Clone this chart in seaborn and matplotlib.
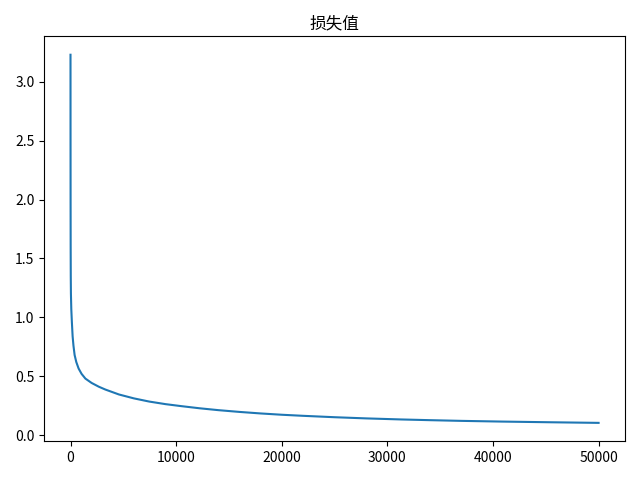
import matplotlib
matplotlib.use("Agg")
import matplotlib.pyplot as plt
import seaborn as sns

plt.rcParams["font.family"] = ["Noto Sans CJK SC", "DejaVu Sans"]
plt.rcParams["axes.unicode_minus"] = False

# 训练迭代次数与对应损失
iterations = [0, 3, 8, 15, 25, 40, 75, 130, 200, 280, 390, 550, 770, 1050,
              1410, 2000, 2680, 3300, 4590, 6000, 7450, 9000, 10500, 12216,
              14000, 16000, 18000, 20000, 22000, 25000, 28000, 31300, 34000,
              37000, 40840, 45600, 50000]
loss = [3.23, 2.60, 2.00, 1.60, 1.35, 1.20, 1.07, 0.96, 0.84, 0.76, 0.68, 0.62,
        0.565, 0.52, 0.48, 0.443, 0.411, 0.387, 0.345, 0.312, 0.285, 0.263,
        0.246, 0.228, 0.212, 0.197, 0.184, 0.173, 0.164, 0.152, 0.142, 0.133,
        0.127, 0.121, 0.115, 0.109, 0.104]

fig, ax = plt.subplots(figsize=(6.4, 4.8), dpi=100)
sns.lineplot(x=iterations, y=loss, ax=ax, color="#1f77b4", linewidth=1.5,
             estimator=None, sort=False)
ax.set_title("损失值")
plt.tight_layout()
plt.savefig("out.png", dpi=100)
plt.close()
